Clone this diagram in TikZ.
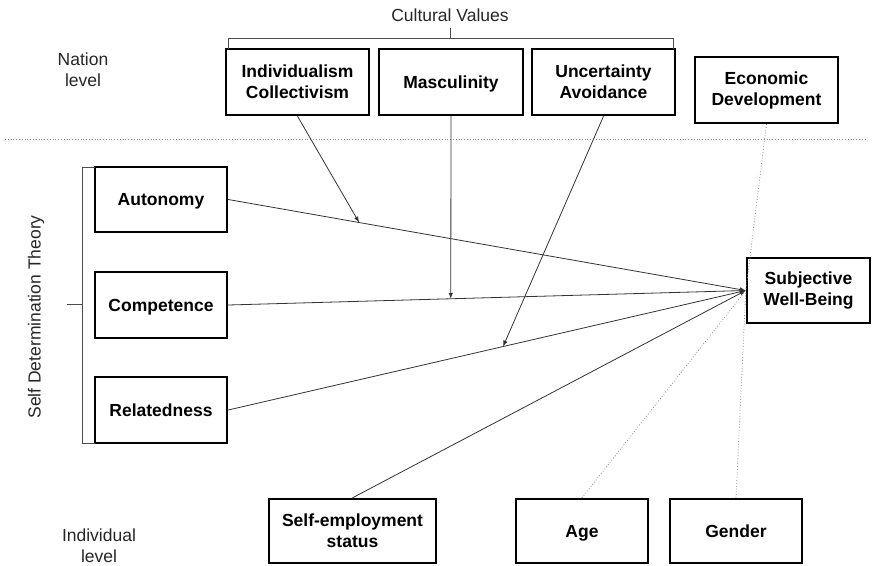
\documentclass[tikz,border=0pt]{standalone}
\usepackage{fontspec}
\setmainfont{Liberation Sans}
\usetikzlibrary{arrows, arrows.meta}

\tikzset{
  factor/.style={draw, line width=2.4pt, fill=white, align=center, inner sep=2pt,
    font=\fontsize{17.5}{21}\selectfont\bfseries},
  oneline/.style={text height=12.5pt, text depth=0pt},
  link/.style={draw=black!80, line width=0.8pt, -{Latex[length=6pt,width=4.5pt]}},
  control/.style={draw=black!45, line width=0.8pt, dotted},
  brace/.style={draw=black!70, line width=0.8pt},
  level/.style={align=center, text=black!85, font=\fontsize{17.5}{21}\selectfont}
}

\begin{document}
\begin{tikzpicture}[x=1pt,y=-1pt]
\useasboundingbox (0,0) rectangle (875,565);

% nation level
\node[level] (nation) at (83,70) {Nation\\level};
\node[level] (cultural) at (450,15) {Cultural Values};
\node[factor, minimum width=143pt, minimum height=66pt] (indcol) at (297.5,82) {Individualism\\Collectivism};
\node[factor, oneline, minimum width=144pt, minimum height=66pt] (masc) at (451,82) {Masculinity};
\node[factor, minimum width=143pt, minimum height=66pt] (uncav) at (603.5,82) {Uncertainty\\Avoidance};
\node[factor, minimum width=143pt, minimum height=66pt] (econ) at (766.5,90) {Economic\\Development};
\draw[brace] (228,49)--(228,38)--(673,38)--(673,49);\draw[brace] (450,38)--(450,28);

\draw[control] (5,139)--(865,139);

% self determination theory
\node[level, rotate=90] (sdt) at (36,317) {Self Determination Theory};
\node[factor, oneline, minimum width=132pt, minimum height=65pt] (auto) at (161,199.5) {Autonomy};
\node[factor, oneline, minimum width=132pt, minimum height=66pt] (comp) at (161,305) {Competence};
\node[factor, oneline, minimum width=132pt, minimum height=66pt] (relat) at (161,410) {Relatedness};
\draw[brace] (95,167)--(82,167)--(82,443)--(95,443);\draw[brace] (67,304)--(82,304);

\node[factor, minimum width=123pt, minimum height=65pt] (swb) at (808.5,290.5) {Subjective\\Well-Being};

% individual level
\node[level] (indiv) at (99,546) {Individual\\level};
\node[factor, minimum width=167pt, minimum height=64pt] (selfemp) at (352.5,531) {Self-employment\\status};
\node[factor, oneline, minimum width=132pt, minimum height=64pt] (age) at (582,531) {Age};
\node[factor, oneline, minimum width=132pt, minimum height=64pt] (gender) at (736,531) {Gender};

% effects
\draw[link] (auto.east) -- coordinate[pos=0.253] (modind) (swb.west);
\draw[link] (comp.east) -- coordinate[pos=0.430] (modmas) (swb.west);
\draw[link] (relat.east) -- coordinate[pos=0.531] (modunc) (swb.west);
\draw[link] (selfemp.north) -- (swb.west);

\draw[link] (indcol.south) -- (modind);
\draw[link] (masc.south) -- (modmas);
\draw[link] (uncav.south) -- (modunc);

\draw[control] (econ.south) -- (swb.west);
\draw[control] (age.north) -- (swb.west);
\draw[control] (gender.north) -- (swb.west);
\end{tikzpicture}
\end{document}
